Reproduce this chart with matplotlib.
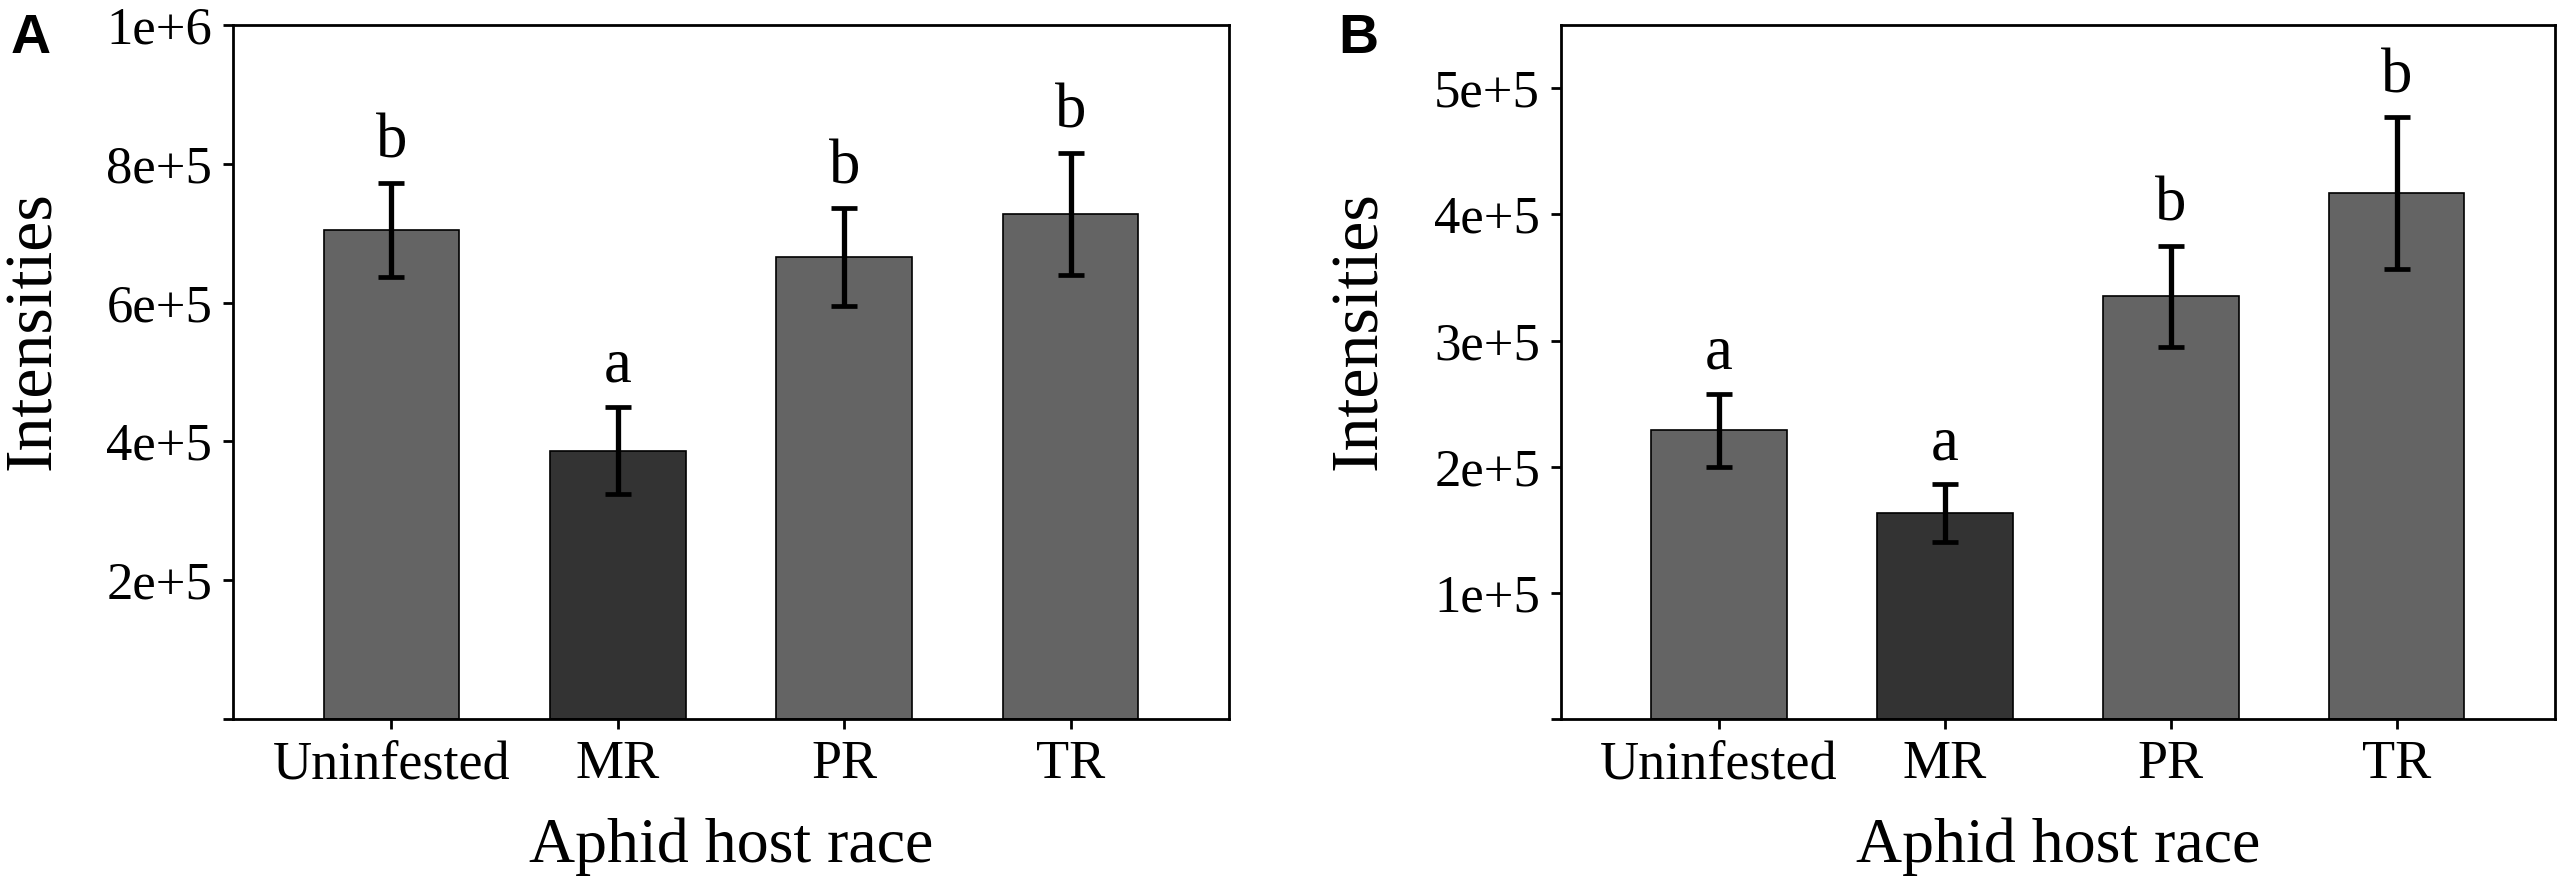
import matplotlib
matplotlib.use("Agg")
import matplotlib.pyplot as plt
import numpy as np

races = ["Uninfested", "MR", "PR", "TR"]

# panel A
means_a = [7.05e5, 3.87e5, 6.66e5, 7.28e5]
err_a = [0.68e5, 0.63e5, 0.70e5, 0.88e5]
letters_a = ["b", "a", "b", "b"]

# panel B
means_b = [2.29e5, 1.63e5, 3.35e5, 4.17e5]
err_b = [0.29e5, 0.23e5, 0.40e5, 0.60e5]
letters_b = ["a", "a", "b", "b"]

bar_colors = ["#646464", "#333333", "#646464", "#646464"]

plt.rcParams["font.family"] = ["Liberation Serif", "DejaVu Serif"]

fig = plt.figure(figsize=(25.63, 8.86), dpi=100)
ax_a = fig.add_axes([0.0909, 0.1885, 0.3886, 0.783])
ax_b = fig.add_axes([0.609, 0.1885, 0.3878, 0.783])


def draw_panel(ax, means, errs, letters, ymax, ticks, ticklabels, label_x):
    x = np.arange(len(races))
    ax.bar(x, means, width=0.6, color=bar_colors, edgecolor="black", linewidth=1.2, zorder=2)
    ax.errorbar(x, means, yerr=errs, fmt="none", ecolor="black", elinewidth=3.8,
                capsize=9.5, capthick=3.4, zorder=3)
    for xi, m, e, lt in zip(x, means, errs, letters):
        ax.annotate(lt, (xi, m + e), xytext=(0, 18), textcoords="offset points",
                    ha="center", va="baseline", fontsize=45)
    ax.set_xlim(-0.7, 3.7)
    ax.set_ylim(0, ymax)
    ax.set_xticks(x)
    ax.set_xticklabels(races, fontsize=39)
    ax.set_yticks(ticks)
    ax.set_yticklabels(ticklabels, fontsize=38)
    ax.tick_params(axis="both", direction="out", length=7, width=2, pad=8)
    for sp in ax.spines.values():
        sp.set_linewidth(2)
    ax.set_ylabel("Intensities", fontsize=49)
    ax.yaxis.set_label_coords(label_x, 0.56)
    ax.set_xlabel("Aphid host race", fontsize=46)
    ax.xaxis.set_label_coords(0.5, -0.142)


draw_panel(ax_a, means_a, err_a, letters_a, 1e6,
           [0, 2e5, 4e5, 6e5, 8e5, 1e6], ["", "2e+5", "4e+5", "6e+5", "8e+5", "1e+6"], -0.17)
draw_panel(ax_b, means_b, err_b, letters_b, 5.5e5,
           [0, 1e5, 2e5, 3e5, 4e5, 5e5], ["", "1e+5", "2e+5", "3e+5", "4e+5", "5e+5"], -0.172)

fig.text(0.004, 0.985, "A", fontsize=40, fontweight="bold", family="Liberation Sans",
         ha="left", va="top")
fig.text(0.522, 0.985, "B", fontsize=40, fontweight="bold", family="Liberation Sans",
         ha="left", va="top")

fig.savefig("out.png", dpi=100)
